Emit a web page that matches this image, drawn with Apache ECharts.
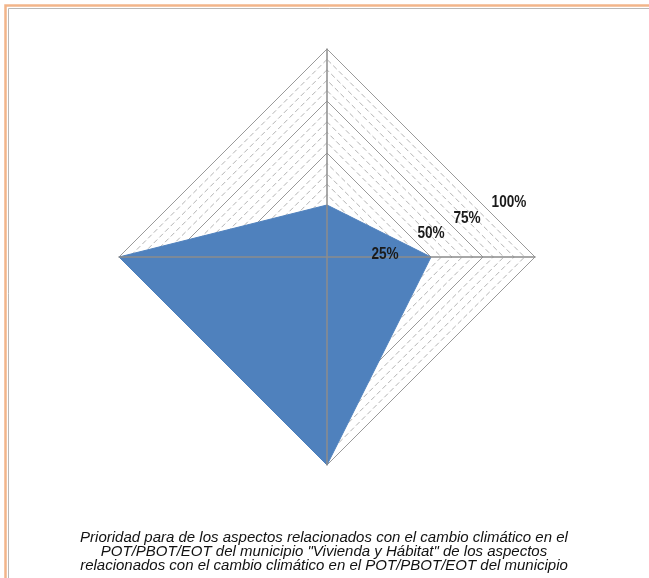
<!DOCTYPE html>
<html>
<head>
<meta charset="utf-8">
<script src="https://cdn.jsdelivr.net/npm/echarts@6/dist/echarts.min.js"></script>
<style>html,body{margin:0;padding:0;background:#fff;}#main{width:649px;height:578px;}</style>
</head>
<body>
<div id="main"></div>
<script>
// Data (indicator order: top, left, bottom, right)
var axes = ['', '', '', ''];
var values = [25, 100, 100, 50];
var tickLabels = ['25%', '50%', '75%', '100%'];
var titleLines = [
  'Prioridad para de los aspectos relacionados con el cambio climático en el',
  'POT/PBOT/EOT del municipio "Vivienda y Hábitat" de los aspectos',
  'relacionados con el cambio climático en el POT/PBOT/EOT del municipio'
];

var center = [327, 257];
var radius = 208;
var indicator = axes.map(function (n) { return { name: n, max: 100, min: 0 }; });

var chart = echarts.init(document.getElementById('main'), null, { renderer: 'canvas' });

var labelPos = [[385, 255], [431, 234], [467, 219], [509, 203]];
var graphics = [
  { type: 'rect', shape: { x: 5.5, y: 5.5, width: 700, height: 700 }, style: { fill: 'none', stroke: '#f2b58a', lineWidth: 2.5 }, z: 0 },
  { type: 'rect', shape: { x: 8.5, y: 8.5, width: 700, height: 700 }, style: { fill: 'none', stroke: '#b8b8b8', lineWidth: 1 }, z: 0 }
];
tickLabels.forEach(function (t, i) {
  graphics.push({
    type: 'text', z: 10,
    scaleX: 0.85,
    x: labelPos[i][0], y: labelPos[i][1],
    style: {
      text: t, x: 0, y: 0,
      textAlign: 'center', textVerticalAlign: 'middle',
      font: 'bold 16px "Liberation Sans", sans-serif',
      fill: '#1a1a1a'
    }
  });
});

chart.setOption({
  animation: false,
  backgroundColor: '#ffffff',
  title: {
    text: titleLines.join('\n'),
    left: 319, top: 526, textAlign: 'center',
    textStyle: {
      fontFamily: '"Liberation Sans", sans-serif',
      fontStyle: 'italic', fontWeight: 'normal', fontSize: 15,
      color: '#111111', lineHeight: 14
    }
  },
  radar: [
    { // minor dashed rings
      center: center, radius: radius, startAngle: 90, shape: 'polygon',
      splitNumber: 20, indicator: indicator, z: 1,
      axisName: { show: false },
      splitArea: { show: false },
      axisLine: { show: false },
      splitLine: { show: true, lineStyle: { color: '#b4b4b4', type: [5, 3], width: 1 } }
    },
    { // major solid rings
      center: center, radius: radius, startAngle: 90, shape: 'polygon',
      splitNumber: 4, indicator: indicator, z: 1,
      axisName: { show: false },
      splitArea: { show: false },
      axisLine: { show: false },
      splitLine: { show: true, lineStyle: { color: '#9a9a9a', type: 'solid', width: 1 } }
    },
    { // axis lines on top
      center: center, radius: radius, startAngle: 90, shape: 'polygon',
      splitNumber: 4, indicator: indicator, z: 5,
      axisName: { show: false },
      splitArea: { show: false },
      splitLine: { show: false },
      axisLine: { show: true, lineStyle: { color: '#8c8c8c', width: 1.5 } }
    }
  ],
  series: [{
    type: 'radar', radarIndex: 1, z: 3,
    symbol: 'none',
    lineStyle: { color: '#4f81bd', width: 1 },
    areaStyle: { color: '#4f81bd', opacity: 1 },
    data: [{ value: values }]
  }],
  graphic: graphics
});
</script>
</body>
</html>
